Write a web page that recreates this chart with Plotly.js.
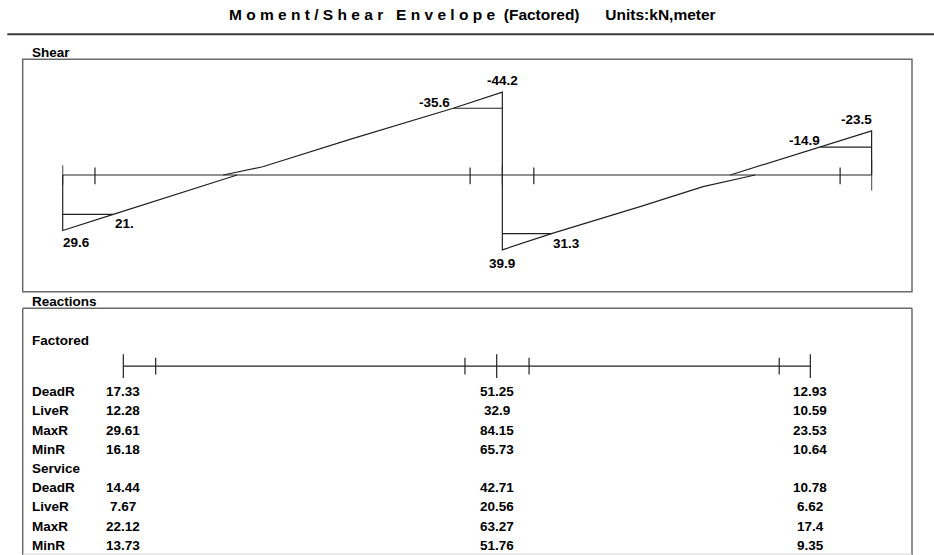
<!DOCTYPE html>
<html><head><meta charset="utf-8">
<script src="https://cdn.plot.ly/plotly-3.0.1.min.js"></script>
<style>html,body{margin:0;padding:0;background:#fff}#chart{width:934px;height:555px}</style>
</head><body><div id="chart"></div>
<script>
// ---------------- data ----------------
const supportX = [0, 6.0, 11.04];                 // support positions (m)
const shearFaceTicks = [0.44, 5.56, 6.43, 10.61];  // intermediate marks, shear diagram
const reactFaceTicks = [0.52, 5.49, 6.52, 10.54];  // intermediate marks, reaction sketch

const posEnv1X = [0, 0.69, 2.38];
const posEnv1V = [29.6, 21.0, 0];
const negEnv1X = [2.19, 2.73, 3.92, 5.33, 6.0];
const negEnv1V = [0, -4.4, -19.0, -35.6, -44.2];
const posEnv2X = [6.0, 6.67, 7.88, 8.74, 9.45];
const posEnv2V = [39.9, 31.3, 16.9, 6.2, 0];
const negEnv2X = [9.11, 10.34, 11.04];
const negEnv2V = [0, -14.9, -23.5];

const dLevelX = [[0, 0.69], [5.33, 6.0], [6.0, 6.67], [10.34, 11.04]];
const dLevelV = [21.0, -35.6, 31.3, -14.9];

const shearLabelText = ["29.6", "21.", "-35.6", "-44.2", "39.9", "31.3", "-14.9", "-23.5"];
const shearLabelX = [0, 0.69, 5.33, 6.0, 6.0, 6.67, 10.34, 11.04];
const shearLabelV = [29.6, 21.0, -35.6, -44.2, 39.9, 31.3, -14.9, -23.5];

const reactionRows = ["DeadR", "LiveR", "MaxR", "MinR"];
const factoredR = [[17.33, 51.25, 12.93], [12.28, 32.9, 10.59], [29.61, 84.15, 23.53], [16.18, 65.73, 10.64]];
const serviceR  = [[14.44, 42.71, 10.78], [7.67, 20.56, 6.62], [22.12, 63.27, 17.4], [13.73, 51.76, 9.35]];

// ---------------- styling ----------------
const FONT = "Liberation Sans, Arial, Helvetica, sans-serif";
const INK = "#222";
const LW = 1.2;
const FS = 13.5;
const NB = "\u00A0";
const W = 934, H = 555;
const px = v => v / W, py = v => 1 - v / H;

const line = (x, y, xa, ya) => ({type: "scatter", mode: "lines", x, y, xaxis: xa || "x", yaxis: ya || "y",
  line: {color: INK, width: LW}, hoverinfo: "skip"});
const ticks = (x, y, size, xa, ya) => ({type: "scatter", mode: "markers", x, y, xaxis: xa || "x", yaxis: ya || "y",
  marker: {symbol: "line-ns-open", size, color: INK, line: {color: INK, width: LW}}, hoverinfo: "skip"});

const traces = [];
// shear diagram
traces.push(line([supportX[0], supportX[2]], [0, 0]));
traces.push(line([supportX[0]].concat(posEnv1X), [0].concat(posEnv1V)));
traces.push(line(negEnv1X.concat(posEnv2X), negEnv1V.concat(posEnv2V)));
traces.push(line(negEnv2X.concat([supportX[2]]), negEnv2V.concat([0])));
dLevelX.forEach((xs, i) => traces.push(line(xs, [dLevelV[i], dLevelV[i]])));
traces.push(ticks(supportX, supportX.map(() => 0), [14, 14, 22]));
traces.push(ticks(shearFaceTicks, shearFaceTicks.map(() => 0.5), 12));
// reaction sketch
const beamRow = -1.33;
traces.push(line([supportX[0], supportX[2]], [beamRow, beamRow], "x2", "y2"));
traces.push(ticks(supportX, supportX.map(() => beamRow), 17, "x2", "y2"));
traces.push(ticks(reactFaceTicks, reactFaceTicks.map(() => beamRow), 12, "x2", "y2"));

// ---------------- annotations ----------------
const ann = [];
const txt = (o) => Object.assign({showarrow: false, borderpad: 0, borderwidth: 0,
  font: {family: FONT, size: FS, color: "#000", weight: 700}}, o);

// title
ann.push(txt({xref: "paper", yref: "paper", x: px(472), y: py(15), xanchor: "center", yanchor: "middle",
  text: "M o m e n t / S h e a r".split(" ").join(NB) + NB.repeat(3) +
        "E n v e l o p e".split(" ").join(NB) + NB + NB + "(Factored)" + NB.repeat(6) + "Units:kN,meter",
  font: {family: FONT, size: 15.5, color: "#000", weight: 700}}));
ann.push(txt({xref: "paper", yref: "paper", x: px(31.5), y: py(52.5), xanchor: "left", yanchor: "middle", text: "Shear"}));
ann.push(txt({xref: "paper", yref: "paper", x: px(32), y: py(301.5), xanchor: "left", yanchor: "middle", text: "Reactions"}));

// shear value labels (anchor / offset styling per label)
const lblStyle = [
  {xanchor: "left", yshift: -12.3, xshift: 0},
  {xanchor: "left", yshift: -8.7, xshift: 2},
  {xanchor: "right", yshift: 6, xshift: -3},
  {xanchor: "center", yshift: 11.6, xshift: 0},
  {xanchor: "center", yshift: -13.4, xshift: 0},
  {xanchor: "left", yshift: -9.4, xshift: 2},
  {xanchor: "right", yshift: 7, xshift: 0},
  {xanchor: "right", yshift: 11, xshift: 0}
];
shearLabelText.forEach((t, i) => ann.push(txt(Object.assign({xref: "x", yref: "y", x: shearLabelX[i], y: shearLabelV[i],
  yanchor: "middle", text: t}, lblStyle[i]))));

// reactions table
ann.push(txt({xref: "paper", yref: "y2", x: px(32), y: -2.66, xanchor: "left", yanchor: "middle", text: "Factored"}));
ann.push(txt({xref: "paper", yref: "y2", x: px(32), y: 4, xanchor: "left", yanchor: "middle", text: "Service"}));
function tableBlock(vals, r0) {
  reactionRows.forEach((name, r) => {
    ann.push(txt({xref: "paper", yref: "y2", x: px(32), y: r0 + r, xanchor: "left", yanchor: "middle", text: name}));
    vals[r].forEach((v, j) => ann.push(txt({xref: "x2", yref: "y2", x: supportX[j], y: r0 + r,
      xanchor: "center", yanchor: "middle", text: String(v)})));
  });
}
tableBlock(factoredR, 0);
tableBlock(serviceR, 5);

// ---------------- frames ----------------
const BOX = "#6a6a6a";
const seg = (x0, y0, x1, y1, color, width) => ({type: "line", xref: "paper", yref: "paper",
  x0: px(x0), y0: py(y0), x1: px(x1), y1: py(y1), line: {color, width}});
const shapes = [
  seg(7.3, 34.3, 934, 34.3, "#3a3a3a", 2),
  {type: "rect", xref: "paper", yref: "paper", x0: px(22.7), x1: px(912), y0: py(291.7), y1: py(59.3),
   line: {color: BOX, width: 1.5}},
  seg(22.7, 308.3, 912, 308.3, BOX, 1.5),
  seg(22.7, 308.3, 22.7, 555, BOX, 1.5),
  seg(912, 308.3, 912, 555, BOX, 1.5),
  seg(22.7, 554, 912, 554, "#d6d6d6", 1)
];

const dom = [px(22.7), px(912)];
const layout = {
  width: W, height: H, margin: {l: 0, r: 0, t: 0, b: 0},
  paper_bgcolor: "#fff", plot_bgcolor: "rgba(0,0,0,0)", showlegend: false,
  xaxis: {domain: dom, range: [-0.546, 11.591], visible: false, fixedrange: true},
  yaxis: {domain: [py(291.7), py(59.3)], range: [62.24, -61.71], visible: false, fixedrange: true},
  xaxis2: {domain: dom, range: [-1.617, 12.674], anchor: "y2", visible: false, fixedrange: true},
  yaxis2: {domain: [py(554), py(308.3)], range: [8.453, -4.344], anchor: "x2", visible: false, fixedrange: true},
  shapes, annotations: ann
};
Plotly.newPlot("chart", traces, layout, {displayModeBar: false, staticPlot: true});
</script></body></html>
